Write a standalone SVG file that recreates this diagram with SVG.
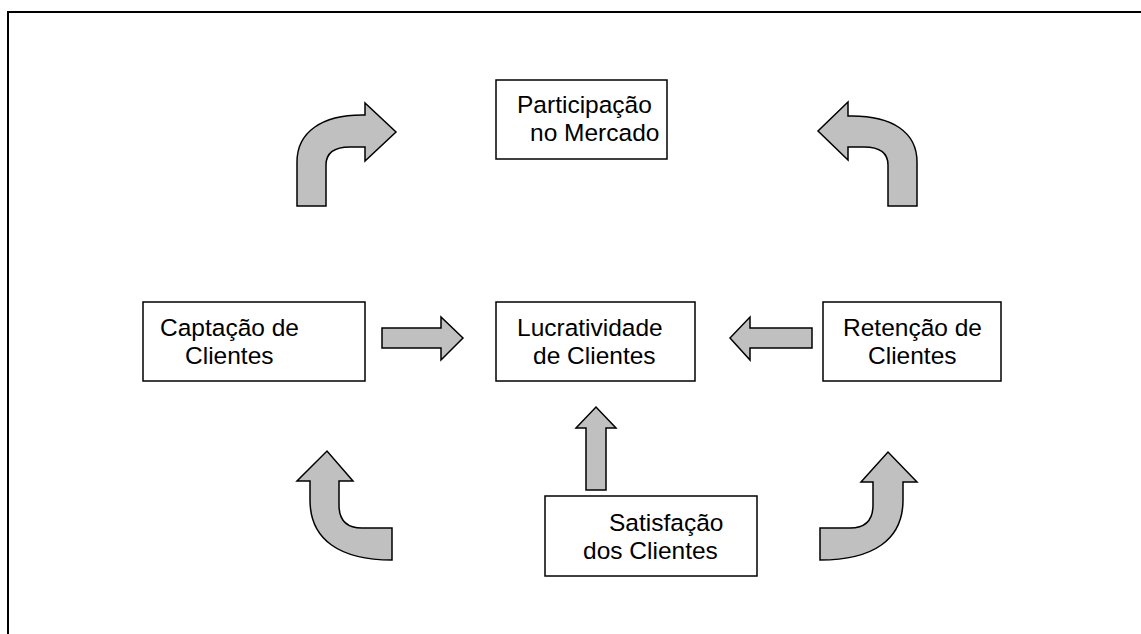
<svg xmlns="http://www.w3.org/2000/svg" width="1141" height="634" viewBox="0 0 1141 634">
<style>
.box{fill:#fff;stroke:#000;stroke-width:1.5}
.arr{fill:#c0c0c0;stroke:#000;stroke-width:1.5;stroke-linejoin:miter}
text{font-family:"Liberation Sans",Arial,sans-serif;font-size:24.5px;fill:#000}
</style>
<rect width="1141" height="634" fill="#fff"/>
<path d="M8,634 V12 H1141" fill="none" stroke="#000" stroke-width="2"/>
<g id="participacao">
<rect class="box" x="496" y="80" width="171" height="79"/>
<text x="517" y="113">Participação</text>
<text x="530" y="141">no Mercado</text>
</g>
<g id="captacao">
<rect class="box" x="143" y="302" width="222" height="79"/>
<text x="160" y="336">Captação de</text>
<text x="185" y="364">Clientes</text>
</g>
<g id="lucratividade">
<rect class="box" x="496" y="302" width="199" height="79"/>
<text x="517" y="336">Lucratividade</text>
<text x="533" y="364">de Clientes</text>
</g>
<g id="retencao">
<rect class="box" x="823" y="302" width="178" height="79"/>
<text x="843" y="336">Retenção de</text>
<text x="868" y="364">Clientes</text>
</g>
<g id="satisfacao">
<rect class="box" x="545" y="496" width="212" height="80"/>
<text x="609" y="531">Satisfação</text>
<text x="583" y="559">dos Clientes</text>
</g>
<g id="connectors">
<path class="arr" d="M297,206 L297,162 C297,132 322,115 362,115 L365,115 L365,103 L396,132 L365,161 L365,147 L350,147 Q326,147 326,165 L326,206 Z"/>
<path class="arr" d="M917,206 L917,162 C917,132 892,116 852,116 L848,116 L848,102 L818,131 L848,160 L848,147 L864,147 Q888,147 888,165 L888,206 Z"/>
<path class="arr" d="M382,328 H441 V317 L463,338 L441,360 V348 H382 Z"/>
<path class="arr" d="M812,328 H750 V317 L730,338 L750,360 V348 H812 Z"/>
<path class="arr" d="M586,490 V428 H576 L596,407 L616,428 H606 V490 Z"/>
<path class="arr" d="M392,528 L362,528 Q339,528 339,505 L339,481 L353,481 L327,451 L297,481 L310,481 L310,500 C310,540 340,560 392,560 Z"/>
<path class="arr" d="M820,528 L850,528 Q873,528 873,505 L873,482 L861,482 L888,452 L917,482 L903,482 L903,500 C903,540 873,560 820,560 Z"/>
</g>
</svg>
